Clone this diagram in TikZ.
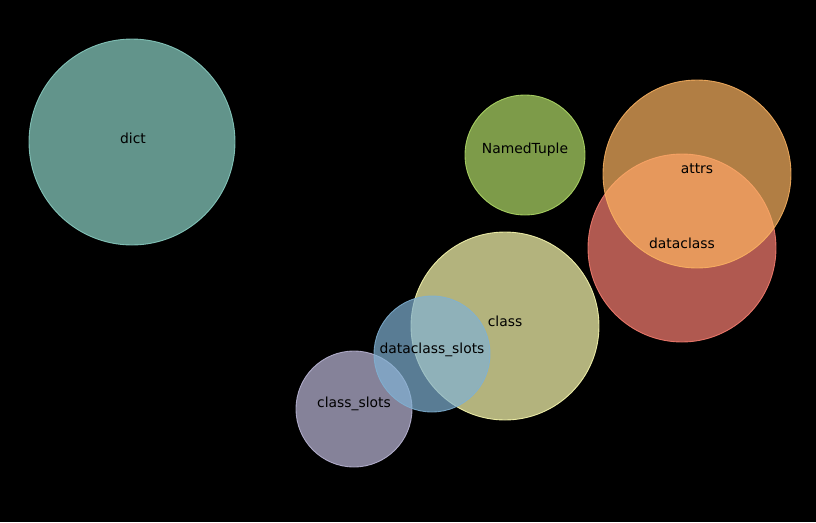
\documentclass[tikz,border=0pt]{standalone}
\usepackage{fontspec}
\setmainfont{DejaVu Sans}
\begin{document}
\begin{tikzpicture}[x=0.02cm,y=-0.02cm,
  bub/.style={fill opacity=0.7,draw opacity=0.85,line width=0.5pt},
  lbl/.style={font=\fontsize{7.9pt}{9pt}\selectfont,text=black,inner sep=0pt}]
\definecolor{cdict}{HTML}{8DD3C7}
\definecolor{cnt}{HTML}{B3DE69}
\definecolor{cattrs}{HTML}{FDB462}
\definecolor{cdc}{HTML}{FB8072}
\definecolor{cclass}{HTML}{FFFFB3}
\definecolor{cdcs}{HTML}{80B1D3}
\definecolor{ccs}{HTML}{BEBADA}
\fill[black] (0,0) rectangle (816,522);
\useasboundingbox (0,0) rectangle (816,522);
\path[bub,fill=cdict,draw=cdict] (132,142) circle[radius=103];
\path[bub,fill=cnt,draw=cnt] (525,155) circle[radius=60];
\path[bub,fill=cdc,draw=cdc] (682,248) circle[radius=94];
\path[bub,fill=cattrs,draw=cattrs] (697,174) circle[radius=94];
\path[bub,fill=cclass,draw=cclass] (505,326) circle[radius=94];
\path[bub,fill=ccs,draw=ccs] (354,409) circle[radius=58];
\path[bub,fill=cdcs,draw=cdcs] (432,354) circle[radius=58];
\node[lbl] (dict) at (133,138) {dict};
\node[lbl] (nt) at (525,150) {NamedTuple};
\node[lbl] (attrs) at (697,169) {attrs};
\node[lbl] (dc) at (682,243) {dataclass};
\node[lbl] (class) at (505,321) {class};
\node[lbl] (dcs) at (432,350) {dataclass\_slots};
\node[lbl] (cs) at (354,404) {class\_slots};
\end{tikzpicture}
\end{document}
